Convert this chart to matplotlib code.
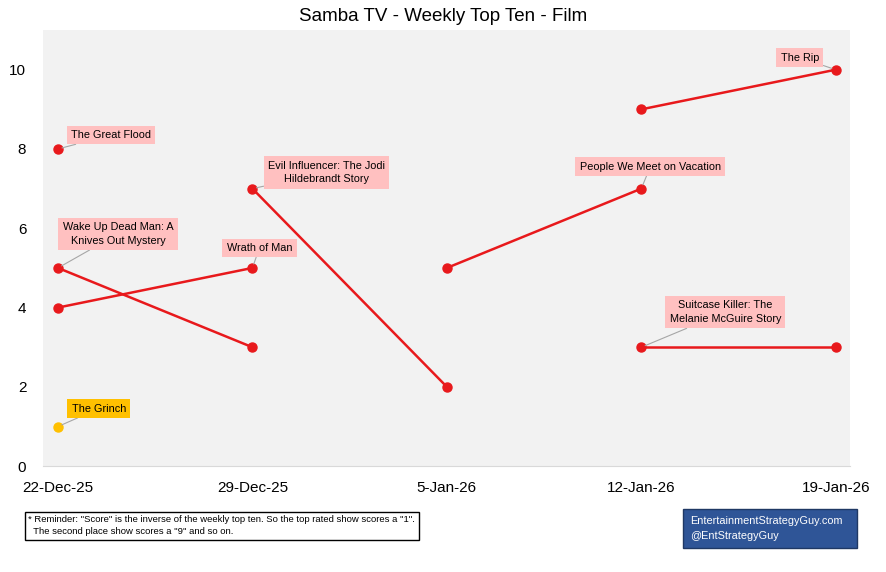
import matplotlib.pyplot as plt
import matplotlib.dates as mdates
from datetime import date

plt.rcParams['font.family'] = ['Liberation Sans Narrow', 'Liberation Sans', 'DejaVu Sans']

weeks = [date(2025, 12, 22), date(2025, 12, 29), date(2026, 1, 5), date(2026, 1, 12), date(2026, 1, 19)]
week_labels = ['22-Dec-25', '29-Dec-25', '5-Jan-26', '12-Jan-26', '19-Jan-26']

titles = ['The Great Flood', 'Wake Up Dead Man: A\nKnives Out Mystery', 'Wrath of Man',
          'Evil Influencer: The Jodi\nHildebrandt Story', 'People We Meet on Vacation',
          'The Rip', 'Suitcase Killer: The\nMelanie McGuire Story', 'The Grinch']
# week index and score for each title
title_weeks = [[0], [0, 1], [0, 1], [1, 2], [2, 3], [3, 4], [3, 4], [0]]
title_scores = [[8], [5, 3], [4, 5], [7, 2], [5, 7], [9, 10], [3, 3], [1]]
# which point of the series gets the label
label_point = [0, 0, 1, 0, 1, 1, 0, 0]
label_offset = [(53, 14), (60, 34), (7, 20), (74, 16), (9, 22), (-36, 12), (84, 35), (41, 18)]

red = '#E8191C'
gold = '#FFC000'
pink = '#FFC0C0'

fig = plt.figure(figsize=(8.86, 5.72), dpi=100)
ax = fig.add_axes([0.0485, 0.185, 0.9105, 0.7625])
ax.set_facecolor('#F2F2F2')

for i, name in enumerate(titles):
    xs = [weeks[w] for w in title_weeks[i]]
    ys = title_scores[i]
    c = gold if name == 'The Grinch' else red
    ax.plot(xs, ys, color=c, lw=1.8, marker='o', ms=6.5, zorder=3)
    p = label_point[i]
    ax.annotate(name, (xs[p], ys[p]), xytext=label_offset[i], textcoords='offset pixels',
                ha='center', va='center', fontsize=7.8, linespacing=1.45,
                bbox=dict(boxstyle='square,pad=0.4', fc=gold if c == gold else pink, ec='none'),
                arrowprops=dict(arrowstyle='-', color='#A6A6A6', lw=0.8, shrinkA=0, shrinkB=3),
                zorder=4)

x0 = mdates.date2num(weeks[0])
x1 = mdates.date2num(weeks[-1])
ax.set_xlim(x0 - 0.54, x1 + 0.5)
ax.set_ylim(0, 11)
ax.set_xticks(weeks)
ax.set_xticklabels(week_labels)
ax.set_yticks(range(0, 11, 2))
ax.tick_params(length=0, labelsize=11)
ax.tick_params(axis='x', pad=11)
ax.tick_params(axis='y', pad=12)
for s in ['top', 'right', 'left']:
    ax.spines[s].set_visible(False)
ax.spines['bottom'].set_color('#D9D9D9')

fig.text(0.5, 0.972, 'Samba TV - Weekly Top Ten - Film', ha='center', va='center', fontsize=13.5)

fig.text(0.032, 0.081, '* Reminder: "Score" is the inverse of the weekly top ten. So the top rated show scores a "1".\n'
         '  The second place show scores a "9" and so on.', ha='left', va='center', fontsize=6.8,
         linespacing=1.5,
         bbox=dict(boxstyle='square,pad=0.35', fc='white', ec='black', lw=1))
fig.patches.append(plt.Rectangle((683 / 886, 1 - 548 / 572), 174 / 886, 39 / 572, transform=fig.transFigure,
                                 fc='#2F5597', ec='#1F3864', lw=1))
fig.text(690 / 886, 1 - 528.5 / 572, 'EntertainmentStrategyGuy.com\n@EntStrategyGuy', ha='left', va='center',
         color='white', fontsize=7.8, linespacing=1.6)

fig.savefig('out.png', dpi=100)
